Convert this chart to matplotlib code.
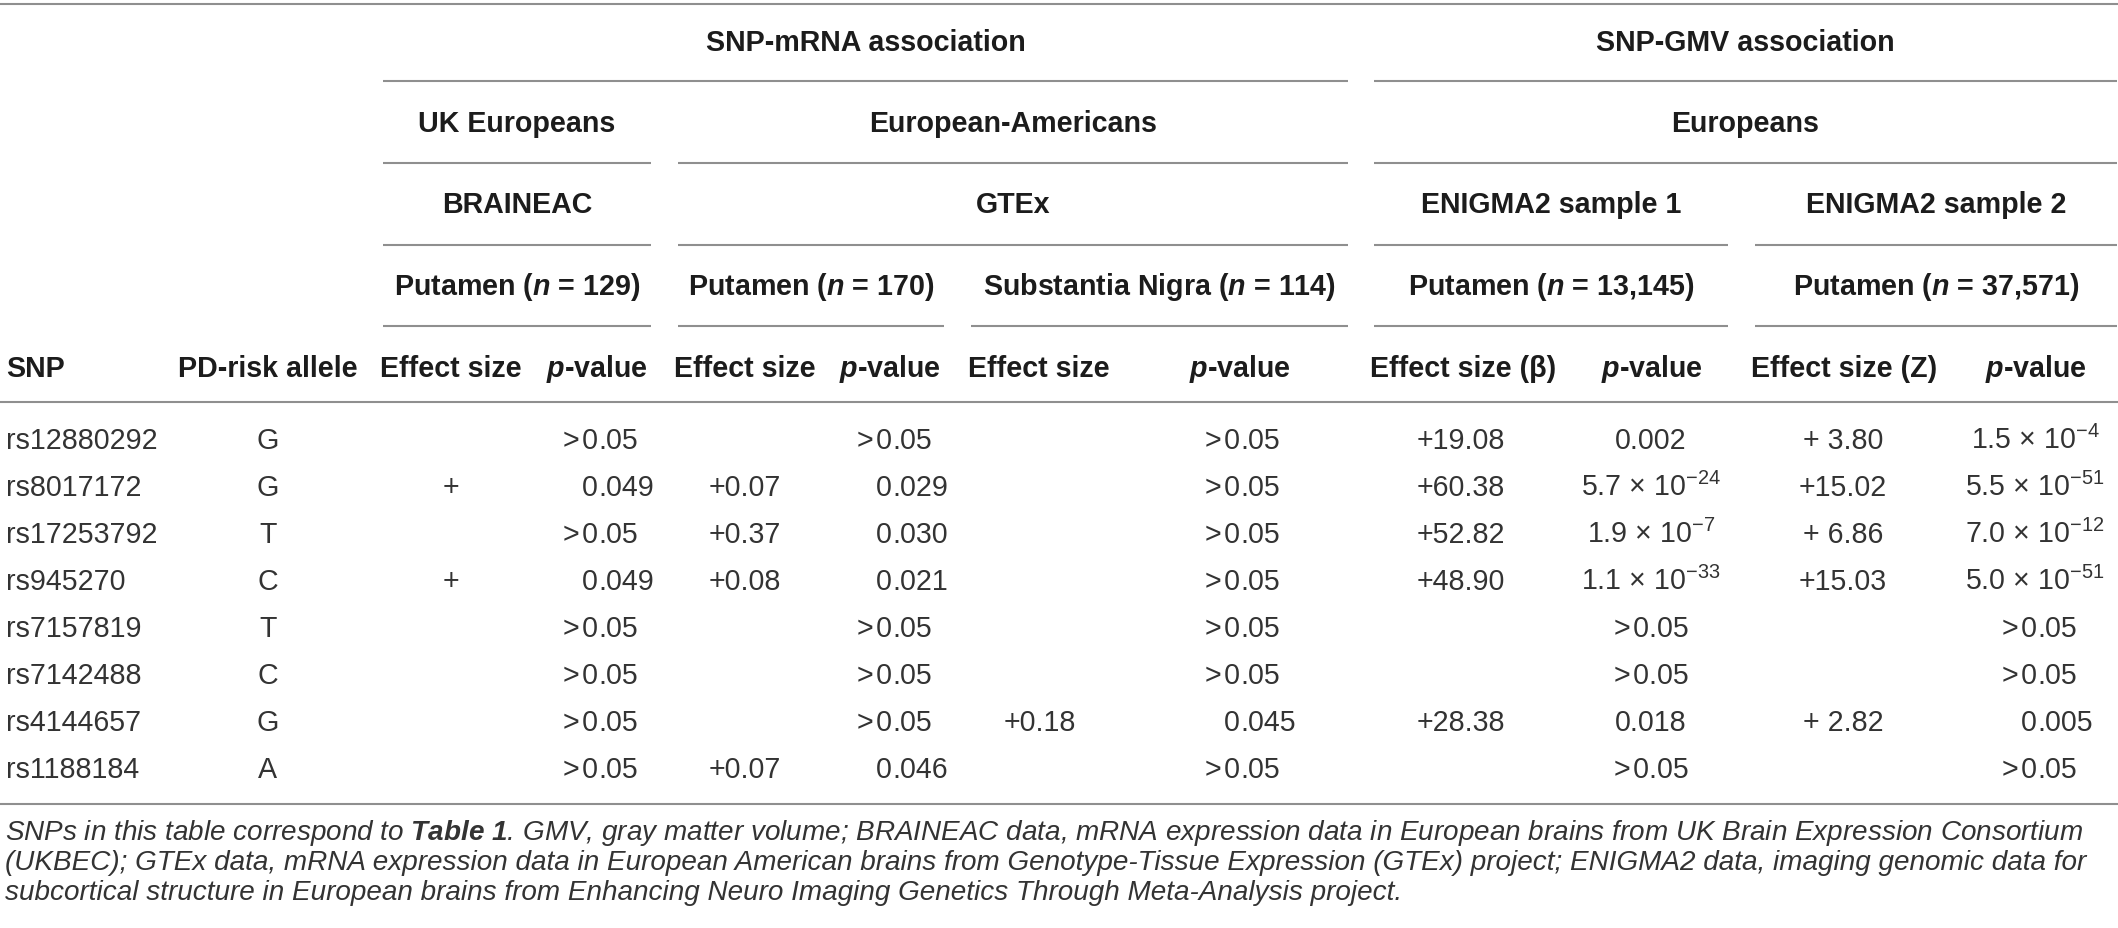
import matplotlib
matplotlib.use("Agg")
import matplotlib.pyplot as plt

plt.rcParams['font.family'] = ['Liberation Sans', 'DejaVu Sans']
plt.rcParams['mathtext.fontset'] = 'custom'
plt.rcParams['mathtext.rm'] = 'Liberation Sans'
plt.rcParams['mathtext.it'] = 'Liberation Sans:italic'
plt.rcParams['mathtext.bf'] = 'Liberation Sans:bold'
plt.rcParams['mathtext.bfit'] = 'Liberation Sans:italic:bold'

# ---- table content ----
level1_labels = ["SNP-mRNA association", "SNP-GMV association"]
level2_labels = ["UK Europeans", "European-Americans", "Europeans"]
level3_labels = ["BRAINEAC", "GTEx", "ENIGMA2 sample 1", "ENIGMA2 sample 2"]
level4_labels = ["Putamen ($\\mathbfit{n}$ = 129)", "Putamen ($\\mathbfit{n}$ = 170)",
                 "Substantia Nigra ($\\mathbfit{n}$ = 114)",
                 "Putamen ($\\mathbfit{n}$ = 13,145)", "Putamen ($\\mathbfit{n}$ = 37,571)"]
col_labels = ["SNP", "PD-risk allele", "Effect size", "$\\mathbfit{p}$-value",
              "Effect size", "$\\mathbfit{p}$-value", "Effect size", "$\\mathbfit{p}$-value",
              "Effect size (β)", "$\\mathbfit{p}$-value", "Effect size (Z)", "$\\mathbfit{p}$-value"]

snps = ["rs12880292", "rs8017172", "rs17253792", "rs945270",
        "rs7157819", "rs7142488", "rs4144657", "rs1188184"]
risk_allele = ["G", "G", "T", "C", "T", "C", "G", "A"]
braineac_eff = ["", "+", "", "+", "", "", "", ""]
braineac_p = [">0.05", "0.049", ">0.05", "0.049", ">0.05", ">0.05", ">0.05", ">0.05"]
gtex_put_eff = ["", "+0.07", "+0.37", "+0.08", "", "", "", "+0.07"]
gtex_put_p = [">0.05", "0.029", "0.030", "0.021", ">0.05", ">0.05", ">0.05", "0.046"]
gtex_sn_eff = ["", "", "", "", "", "", "+0.18", ""]
gtex_sn_p = [">0.05", ">0.05", ">0.05", ">0.05", ">0.05", ">0.05", "0.045", ">0.05"]
enigma1_beta = ["+19.08", "+60.38", "+52.82", "+48.90", "", "", "+28.38", ""]
enigma1_p = ["0.002", "5.7 × 10$^{-24}$", "1.9 × 10$^{-7}$", "1.1 × 10$^{-33}$",
             ">0.05", ">0.05", "0.018", ">0.05"]
enigma2_z = ["+ 3.80", "+15.02", "+ 6.86", "+15.03", "", "", "+ 2.82", ""]
enigma2_p = ["1.5 × 10$^{-4}$", "5.5 × 10$^{-51}$", "7.0 × 10$^{-12}$", "5.0 × 10$^{-51}$",
             ">0.05", ">0.05", "0.005", ">0.05"]

columns = [snps, risk_allele, braineac_eff, braineac_p, gtex_put_eff, gtex_put_p,
           gtex_sn_eff, gtex_sn_p, enigma1_beta, enigma1_p, enigma2_z, enigma2_p]

caption_lines = [
    "SNPs in this table correspond to $\\mathbfit{Table\\ 1}$. GMV, gray matter volume; BRAINEAC data, "
    "mRNA expression data in European brains from UK Brain Expression Consortium",
    "(UKBEC); GTEx data, mRNA expression data in European American brains from Genotype-Tissue "
    "Expression (GTEx) project; ENIGMA2 data, imaging genomic data for",
    "subcortical structure in European brains from Enhancing Neuro Imaging Genetics Through "
    "Meta-Analysis project.",
]

# ---- layout (pixels) ----
W, H = 2118, 929
FS = 20.6
HEAD = '#1c1c1c'
BODY = '#333333'
RULE = '#8f8f8f'

span1 = [(383, 1348), (1374, 2117)]
span2 = [(383, 651), (678, 1348), (1374, 2117)]
span3 = [(383, 651), (678, 1348), (1374, 1728), (1755, 2117)]
span4 = [(383, 651), (678, 944), (971, 1348), (1374, 1728), (1755, 2117)]
levels = [(level1_labels, span1, 51, 82), (level2_labels, span2, 132, 164),
          (level3_labels, span3, 213, 246), (level4_labels, span4, 295, 327)]

head_x = [6, 268, 451, 597, 745, 890, 1039, 1240, 1463, 1652, 1844, 2036]
col_x = [6, 268, 451, 598, 745, 892, 1040, 1240, 1461, 1651, 1843, 2037]
col_mode = ['left', 'center', 'center', 'dec', 'center', 'dec',
            'center', 'dec', 'center', 'center', 'center', 'dec']

fig = plt.figure(figsize=(W / 100, H / 100), dpi=100)
ax = fig.add_axes([0, 0, 1, 1])
ax.set_xlim(0, W)
ax.set_ylim(H, 0)
ax.axis('off')


def rule(y, x0, x1):
    ax.plot([x0, x1], [y, y], color=RULE, lw=1.5, solid_capstyle='butt')


rule(5, 0, W)
for labels, spans, ty, ry in levels:
    for lab, (x0, x1) in zip(labels, spans):
        ax.text((x0 + x1) / 2, ty, lab, ha='center', va='baseline', fontsize=FS,
                fontweight='bold', color=HEAD)
        rule(ry, x0, x1)

for i, lab in enumerate(col_labels):
    ax.text(head_x[i], 377, lab, ha='left' if i == 0 else 'center', va='baseline',
            fontsize=FS, fontweight='bold', color=HEAD)
rule(403, 0, W)

for j, col in enumerate(columns):
    x = col_x[j]
    mode = col_mode[j]
    for i, s in enumerate(col):
        if not s:
            continue
        y = 449 + 47 * i
        s = s.replace('>', '>\u200a')
        if mode == 'dec' and '$' not in s:
            left, right = s.split('.', 1)
            ax.text(x, y, left, ha='right', va='baseline', fontsize=FS, color=BODY)
            ax.text(x, y, '.' + right, ha='left', va='baseline', fontsize=FS, color=BODY)
        elif mode == 'dec':
            ax.text(x - 2, y, s, ha='center', va='baseline', fontsize=FS, color=BODY)
        else:
            ax.text(x, y, s, ha=mode, va='baseline', fontsize=FS, color=BODY)

rule(805, 0, W)

# caption, sized so the first line fills the width
renderer = fig.canvas.get_renderer()
probe = ax.text(5, 840, caption_lines[0], fontsize=FS, style='italic')
wpx = probe.get_window_extent(renderer).width
probe.remove()
cap_fs = FS * 2080 / wpx
for k, line in enumerate(caption_lines):
    ax.text(5, 840 + 30 * k, line, ha='left', va='baseline', fontsize=cap_fs,
            style='italic', color=BODY)

fig.savefig('out.png', dpi=100)
